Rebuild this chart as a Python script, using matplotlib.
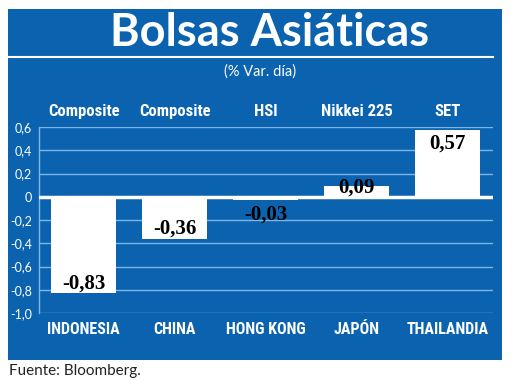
import matplotlib
matplotlib.use("Agg")
import matplotlib.pyplot as plt
from matplotlib.patches import Rectangle
from matplotlib.lines import Line2D

countries = ["INDONESIA", "CHINA", "HONG KONG", "JAPÓN", "THAILANDIA"]
indices = ["Composite", "Composite", "HSI", "Nikkei 225", "SET"]
values = [-0.83, -0.36, -0.03, 0.09, 0.57]
value_labels = ["-0,83", "-0,36", "-0,03", "0,09", "0,57"]
yticks = [0.6, 0.4, 0.2, 0, -0.2, -0.4, -0.6, -0.8, -1.0]
ytick_labels = ["0,6", "0,4", "0,2", "0", "-0,2", "-0,4", "-0,6", "-0,8", "-1,0"]

BLUE = "#0b63b0"
GRID = "#7fb5e6"
W, H = 520, 392

fig = plt.figure(figsize=(5.2, 3.92), dpi=100)
fig.patch.set_facecolor("white")

fig.patches.append(Rectangle((8 / W, 1 - 360 / H), (502 - 8) / W, (360 - 9) / H,
                             transform=fig.transFigure, facecolor=BLUE, edgecolor="none", zorder=-5))
fig.lines.append(Line2D([8 / W, 493 / W], [1 - 57 / H, 1 - 57 / H], transform=fig.transFigure,
                        color="white", lw=1.5))

narrow = ["Roboto Condensed", "Liberation Sans"]
sans = ["Lato", "DejaVu Sans"]
fig.text(270 / W, 1 - 33 / H, "Bolsas Asiáticas", ha="center", va="center", color="white",
         fontsize=32.5, fontweight="bold", family=sans)
fig.text(260 / W, 1 - 72 / H, "(% Var. día)", ha="center", va="center", color="white",
         fontsize=10.5, family=sans)
fig.text(9 / W, 1 - 371 / H, "Fuente: Bloomberg.", ha="left", va="center", color="#222222",
         fontsize=11, family=sans)

ax = fig.add_axes([39 / W, 1 - 313 / H, (493 - 39) / W, (313 - 127) / H])
ax.set_zorder(5)
ax.set_facecolor("none")
x = list(range(len(values)))
ax.set_ylim(-1.0, 0.6)
ax.set_xlim(-0.49, 4.5)
for t in yticks:
    if t != 0:
        ax.axhline(t, color=GRID, lw=1.0, zorder=1)
ax.bar(x, values, width=0.71, color="white", zorder=2)
ax.axhline(0, color="white", lw=2.5, zorder=3)

for s in ["top", "right", "bottom"]:
    ax.spines[s].set_visible(False)
ax.spines["left"].set_color(GRID)
ax.spines["left"].set_linewidth(1.0)
ax.set_yticks(yticks)
ax.set_yticklabels(ytick_labels, color="white", fontsize=9, family=sans)
ax.tick_params(axis="y", length=0, pad=5)
ax.set_xticks([])

for i, (idx, c) in enumerate(zip(indices, countries)):
    ax.text(i, 0.695, idx, ha="center", va="baseline", color="white",
            fontsize=12, fontweight="bold", family=narrow, clip_on=False)
    ax.text(i, -1.18, c, ha="center", va="baseline", color="white",
            fontsize=11.5, fontweight="bold", family=narrow, clip_on=False)

offsets = [0.085, 0.085, -0.12, -0.01, -0.11]
for i, (lab, v, d) in enumerate(zip(value_labels, values, offsets)):
    ax.text(i, v + d, lab, ha="center", va="center", color="black", fontsize=15,
            fontweight="bold", family=["Liberation Serif", "DejaVu Serif"], zorder=4)

fig.savefig("out.png", dpi=100, facecolor="white")
